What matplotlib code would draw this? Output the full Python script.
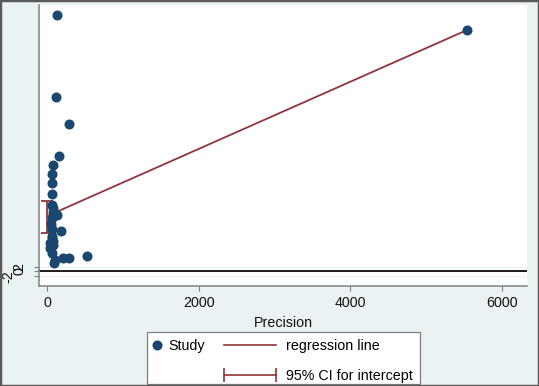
import matplotlib
matplotlib.use('Agg')
import matplotlib.pyplot as plt
from matplotlib.lines import Line2D
from matplotlib.patches import Rectangle
from matplotlib.legend_handler import HandlerLine2D

plt.rcParams['font.family'] = ['Liberation Sans', 'DejaVu Sans']

# Egger test data: precision (1/SE) vs standardized effect
precision = [132, 115, 290, 150, 71, 66, 66, 66, 58, 79, 124, 58, 177, 58, 58,
             36, 79, 72, 58, 40, 58, 102, 88, 211, 290, 528, 50, 70, 5545]
std_effect = [109.3, 74.1, 62.8, 49.0, 45.4, 41.5, 37.8, 33.0, 28.3, 25.4, 24.0,
              22.6, 17.2, 18.0, 14.1, 12.0, 11.3, 13.0, 7.7, 10.0, 15.0, 4.9, 3.7,
              5.6, 5.9, 6.5, 20.0, 27.0, 102.6]

intercept = 23.6
slope = 0.01428
ci_low, ci_high = 16.3, 30.1

xticks = [0, 2000, 4000, 6000]
yticks = [-2, 0, 2]

navy = '#1a476f'
maroon = '#90353b'
bg = '#eaf2f3'
fs = 10.3

fig = plt.figure(figsize=(5.39, 3.86), dpi=100)
fig.patch.set_facecolor(bg)
ax = fig.add_axes([39/539, 1 - 286/386, (527 - 39)/539, (286 - 5)/386])
ax.set_facecolor('white')

# reference line at zero
ax.axhline(0, color='#1a1a1a', lw=1.4, zorder=1)
for yt in yticks:
    if yt != 0:
        ax.axhline(yt, color=bg, lw=0.8, zorder=0)

ax.plot(precision, std_effect, 'o', color=navy, ms=6.2, ls='none', zorder=3)

# regression line from x=0 to largest precision
xmax = max(precision)
ax.plot([0, xmax], [intercept, intercept + slope * xmax], color=maroon, lw=1.3, zorder=2)

# CI for intercept
ax.errorbar([0], [(ci_low + ci_high) / 2], yerr=[[(ci_high - ci_low) / 2]],
            fmt='none', ecolor=maroon, elinewidth=1.3, capsize=4, capthick=1.3, zorder=2)

ax.set_xlim(-110, 6335)
ax.set_ylim(-6.2, 113.4)
for s in ['top', 'right']:
    ax.spines[s].set_visible(False)
for s in ['left', 'bottom']:
    ax.spines[s].set_color('#808080')
    ax.spines[s].set_linewidth(1.1)

ax.set_xticks(xticks)
ax.set_xticklabels([str(t) for t in xticks], fontsize=fs, color='#111111')
ax.tick_params(axis='both', color='#808080', length=3.6, width=0.8)
ax.set_yticks(yticks)
ax.set_yticklabels(['' for t in yticks])
ax.xaxis.set_label_coords(0.49, -0.105)
ax.set_xlabel('Precision', fontsize=fs, color='#111111')

# overlapping rotated y tick labels
ylab_off = {-2: -0.062, 0: -0.040, 2: -0.040}
for yt in yticks:
    ax.text(ylab_off[yt], yt, str(yt), rotation=90, ha='center', va='center',
            fontsize=fs, color='#111111', transform=ax.get_yaxis_transform())

# legend box
fig.patches.append(Rectangle((147/539, 1 - 384/386), (420 - 147)/539, (384 - 332)/386,
                             transform=fig.transFigure, facecolor='white',
                             edgecolor='#7f7f7f', lw=0.9, zorder=0))
h_study = Line2D([], [], marker='o', color=navy, ls='none', ms=6.2)
h_reg = Line2D([], [], color=maroon, lw=1.2)
h_ci = Line2D([], [], color=maroon, lw=1.2, marker='|', ms=10, mew=1.2)

fig.legend([h_study], ['Study'], loc='upper left', bbox_to_anchor=(151/539, 1 - 339/386),
           frameon=False, fontsize=fs, handlelength=0.8, handletextpad=0.4,
           borderpad=0, borderaxespad=0)
fig.legend([h_reg, h_ci], ['regression line', '95% CI for intercept'], loc='upper left',
           bbox_to_anchor=(224/539, 1 - 339/386), frameon=False, fontsize=fs,
           handlelength=3.6, handletextpad=0.7, labelspacing=1.13,
           borderpad=0, borderaxespad=0,
           handler_map={h_ci: HandlerLine2D(numpoints=2, marker_pad=0)})

# outer frame
fig.patches.append(Rectangle((0, 0), 1, 1, transform=fig.transFigure, fill=False,
                             edgecolor='#5a5a5a', lw=2.5, zorder=5))

fig.savefig('out.png', dpi=100, facecolor=bg)
